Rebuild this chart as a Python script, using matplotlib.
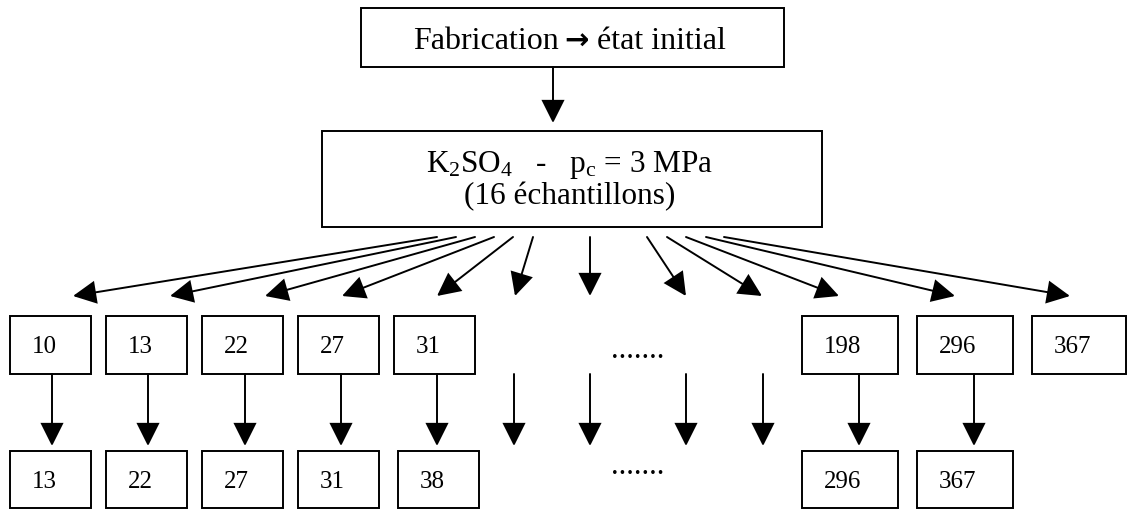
import matplotlib
matplotlib.use("Agg")
import matplotlib.pyplot as plt
from matplotlib.patches import Rectangle, FancyArrowPatch

plt.rcParams['font.family'] = ['Liberation Serif', 'DejaVu Serif']
plt.rcParams['mathtext.fontset'] = 'custom'
plt.rcParams['mathtext.rm'] = 'Liberation Serif'
plt.rcParams['mathtext.it'] = 'Liberation Serif:italic'
plt.rcParams['mathtext.bf'] = 'Liberation Serif:bold'

# ---- content ----
top_left = "Fabrication"
top_arrow_char = "\u2192"
top_right = "état initial"
mid_line1 = r"K$_\mathrm{2}$SO$_\mathrm{4}$   -   p$_\mathrm{c}$ = 3 MPa"
mid_line2 = "(16 échantillons)"
row1_labels = ['10', '13', '22', '27', '31', '198', '296', '367']
row2_labels = ['13', '22', '27', '31', '38', '296', '367']
ellipsis = "......."

# ---- layout (pixels, y downward) ----
top_box = (361, 9, 784, 68)
mid_box = (322, 132, 822, 228)
row1_x = [(10, 91), (106, 187), (202, 283), (298, 379), (394, 475),
          (802, 898), (917, 1013), (1032, 1126)]
row2_x = [(10, 91), (106, 187), (202, 283), (298, 379), (398, 479),
          (802, 898), (917, 1013)]
row1_y = (317, 375)
row2_y = (452, 509)
fan_start_x = [437, 456, 475, 494, 513, 533, 590, 647, 667, 686, 706, 724]
fan_tip_x = [73, 170, 265, 342, 437, 515, 590, 686, 762, 839, 955, 1070]
fan_y = (238, 297)
down_x = [52, 148, 245, 341, 437, 514, 590, 686, 763, 859, 974]
down_y = (375, 447)
top_arrow_x = 553
top_arrow_y = (68, 124)

LW = 1.4
fig = plt.figure(figsize=(11.27, 5.10), dpi=100)
ax = fig.add_axes([0, 0, 1, 1])
ax.set_xlim(0, 1127)
ax.set_ylim(510, 0)
ax.axis('off')


def box(x0, y0, x1, y1):
    ax.add_patch(Rectangle((x0, y0), x1 - x0, y1 - y0, fill=False,
                           edgecolor='black', lw=LW, joinstyle='miter'))


def arrow(p0, p1):
    ax.add_patch(FancyArrowPatch(p0, p1, arrowstyle='-|>,head_length=1.0,head_width=0.5',
                                 mutation_scale=14.4, shrinkA=0, shrinkB=0,
                                 color='black', lw=LW, joinstyle='miter'))


box(*top_box)
ax.text(559, 49, top_left, fontsize=23, ha='right', va='baseline')
ax.text(577, 50, top_arrow_char, fontsize=21, fontweight='bold',
        family=['DejaVu Sans'], ha='center', va='baseline')
ax.text(597, 49, top_right, fontsize=23, ha='left', va='baseline')
arrow((top_arrow_x, top_arrow_y[0]), (top_arrow_x, top_arrow_y[1]))

box(*mid_box)
ax.text(570, 172, mid_line1, fontsize=22.5, ha='center', va='baseline')
ax.text(570, 204, mid_line2, fontsize=22.5, ha='center', va='baseline')

for sx, tx in zip(fan_start_x, fan_tip_x):
    arrow((sx, fan_y[0]), (tx, fan_y[1]))

for (x0, x1), lab in zip(row1_x, row1_labels):
    box(x0, row1_y[0], x1, row1_y[1])
    ax.text(x0 + 22, 353, lab, fontsize=18, ha='left', va='baseline')

for (x0, x1), lab in zip(row2_x, row2_labels):
    box(x0, row2_y[0], x1, row2_y[1])
    ax.text(x0 + 22, 488, lab, fontsize=18, ha='left', va='baseline')

for x in down_x:
    arrow((x, down_y[0]), (x, down_y[1]))

ax.text(638, 358, ellipsis, fontsize=22, ha='center', va='baseline')
ax.text(638, 474, ellipsis, fontsize=22, ha='center', va='baseline')

fig.savefig('out.png', dpi=100)
